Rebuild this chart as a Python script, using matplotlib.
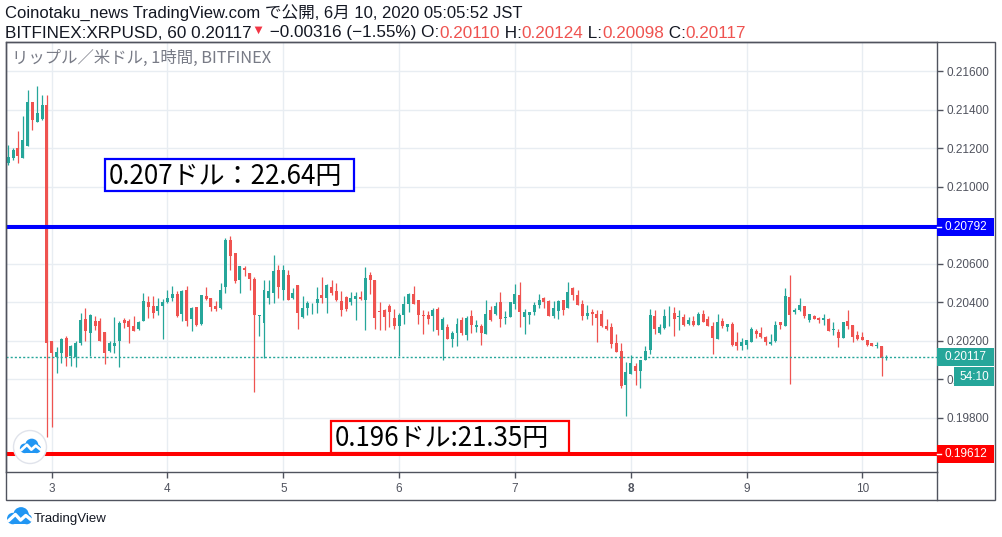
import matplotlib
matplotlib.use('Agg')
import matplotlib.pyplot as plt
import matplotlib.dates as mdates
import numpy as np
import pandas as pd
from matplotlib.patches import Rectangle, Circle
from matplotlib.lines import Line2D
from matplotlib.ticker import FormatStrFormatter
from matplotlib.transforms import blended_transform_factory

# hourly candles, BITFINEX XRPUSD, from 2020-06-02 15:00 JST
start = '2020-06-02 15:00'
opens = [
    0.21123, 0.21149, 0.21201, 0.21152, 0.21213, 0.21438, 0.21339, 0.21353, 0.21426, 0.20196,
    0.20118, 0.20135, 0.20216, 0.20121, 0.20118, 0.20187, 0.20312, 0.20239, 0.20303, 0.20300,
    0.20244, 0.20149, 0.20173, 0.20196, 0.20308, 0.20300, 0.20274, 0.20260, 0.20305, 0.20400,
    0.20381, 0.20357, 0.20378, 0.20400, 0.20421, 0.20444, 0.20339, 0.20461, 0.20312, 0.20374,
    0.20286, 0.20430, 0.20421, 0.20381, 0.20369, 0.20481, 0.20721, 0.20655, 0.20513, 0.20577,
    0.20551, 0.20520, 0.20326, 0.20294, 0.20424, 0.20450, 0.20568, 0.20464, 0.20542, 0.20421,
    0.20490, 0.20322, 0.20369, 0.20384, 0.20395, 0.20438, 0.20421, 0.20478, 0.20456, 0.20408,
    0.20427, 0.20399, 0.20418, 0.20427, 0.20413, 0.20543, 0.20514, 0.20356, 0.20361, 0.20382,
    0.20320, 0.20275, 0.20334, 0.20389, 0.20444, 0.20413, 0.20335, 0.20335, 0.20327, 0.20367,
    0.20254, 0.20271, 0.20207, 0.20238, 0.20309, 0.20230, 0.20330, 0.20270, 0.20278, 0.20233,
    0.20358, 0.20341, 0.20399, 0.20318, 0.20322, 0.20392, 0.20439, 0.20322, 0.20332, 0.20347,
    0.20387, 0.20424, 0.20408, 0.20327, 0.20353, 0.20413, 0.20368, 0.20476, 0.20439, 0.20389,
    0.20330, 0.20347, 0.20341, 0.20341, 0.20278, 0.20270, 0.20190, 0.20148, 0.19968, 0.20029,
    0.20070, 0.20041, 0.20098, 0.20150, 0.20330, 0.20242, 0.20266, 0.20342, 0.20346, 0.20322,
    0.20325, 0.20289, 0.20304, 0.20283, 0.20341, 0.20315, 0.20278, 0.20211, 0.20304, 0.20273,
    0.20289, 0.20195, 0.20174, 0.20176, 0.20195, 0.20252, 0.20242, 0.20221, 0.20185, 0.20200,
    0.20299, 0.20278, 0.20429, 0.20347, 0.20361, 0.20382, 0.20309, 0.20330, 0.20320, 0.20309,
    0.20315, 0.20254, 0.20247, 0.20212, 0.20304, 0.20283, 0.20231, 0.20221, 0.20205, 0.20190,
    0.20171, 0.20174, 0.20110,
]
highs = [
    0.21218, 0.21201, 0.21291, 0.21369, 0.21501, 0.21438, 0.21521, 0.21478, 0.21478, 0.20196,
    0.20170, 0.20213, 0.20225, 0.20178, 0.20196, 0.20343, 0.20369, 0.20338, 0.20326, 0.20317,
    0.20244, 0.20196, 0.20322, 0.20300, 0.20317, 0.20312, 0.20326, 0.20300, 0.20447, 0.20433,
    0.20430, 0.20421, 0.20416, 0.20461, 0.20485, 0.20456, 0.20461, 0.20485, 0.20374, 0.20374,
    0.20437, 0.20481, 0.20424, 0.20404, 0.20499, 0.20733, 0.20742, 0.20655, 0.20589, 0.20589,
    0.20551, 0.20530, 0.20334, 0.20516, 0.20513, 0.20646, 0.20594, 0.20594, 0.20568, 0.20473,
    0.20490, 0.20433, 0.20404, 0.20395, 0.20481, 0.20530, 0.20495, 0.20516, 0.20499, 0.20460,
    0.20434, 0.20455, 0.20455, 0.20460, 0.20583, 0.20559, 0.20514, 0.20399, 0.20365, 0.20392,
    0.20367, 0.20344, 0.20431, 0.20448, 0.20486, 0.20413, 0.20361, 0.20353, 0.20372, 0.20375,
    0.20323, 0.20289, 0.20252, 0.20318, 0.20323, 0.20327, 0.20361, 0.20309, 0.20287, 0.20413,
    0.20379, 0.20399, 0.20455, 0.20353, 0.20399, 0.20496, 0.20505, 0.20367, 0.20351, 0.20401,
    0.20444, 0.20429, 0.20413, 0.20405, 0.20413, 0.20413, 0.20503, 0.20479, 0.20465, 0.20410,
    0.20384, 0.20367, 0.20361, 0.20360, 0.20315, 0.20292, 0.20237, 0.20188, 0.20088, 0.20126,
    0.20084, 0.20102, 0.20171, 0.20367, 0.20361, 0.20287, 0.20367, 0.20382, 0.20375, 0.20361,
    0.20341, 0.20323, 0.20330, 0.20347, 0.20361, 0.20330, 0.20299, 0.20341, 0.20320, 0.20289,
    0.20299, 0.20247, 0.20216, 0.20205, 0.20273, 0.20263, 0.20273, 0.20226, 0.20237, 0.20304,
    0.20299, 0.20476, 0.20543, 0.20372, 0.20424, 0.20382, 0.20341, 0.20335, 0.20325, 0.20341,
    0.20320, 0.20297, 0.20263, 0.20297, 0.20361, 0.20283, 0.20252, 0.20247, 0.20205, 0.20190,
    0.20195, 0.20174, 0.20124,
]
lows = [
    0.21114, 0.21140, 0.21126, 0.21149, 0.21210, 0.21296, 0.21334, 0.21348, 0.19702, 0.19754,
    0.20034, 0.20083, 0.20069, 0.20069, 0.20066, 0.20178, 0.20201, 0.20121, 0.20256, 0.20201,
    0.20080, 0.20144, 0.20138, 0.20066, 0.20265, 0.20190, 0.20248, 0.20256, 0.20305, 0.20317,
    0.20317, 0.20334, 0.20208, 0.20395, 0.20404, 0.20322, 0.20300, 0.20277, 0.20253, 0.20277,
    0.20282, 0.20412, 0.20357, 0.20352, 0.20364, 0.20450, 0.20565, 0.20499, 0.20450, 0.20537,
    0.20461, 0.19936, 0.20222, 0.20109, 0.20391, 0.20395, 0.20421, 0.20412, 0.20412, 0.20416,
    0.20260, 0.20317, 0.20334, 0.20339, 0.20346, 0.20395, 0.20346, 0.20438, 0.20404, 0.20327,
    0.20353, 0.20387, 0.20309, 0.20413, 0.20257, 0.20444, 0.20263, 0.20257, 0.20254, 0.20270,
    0.20263, 0.20122, 0.20289, 0.20347, 0.20392, 0.20289, 0.20233, 0.20289, 0.20249, 0.20228,
    0.20102, 0.20207, 0.20166, 0.20171, 0.20231, 0.20205, 0.20240, 0.20245, 0.20179, 0.20233,
    0.20304, 0.20335, 0.20270, 0.20289, 0.20322, 0.20365, 0.20270, 0.20233, 0.20285, 0.20332,
    0.20368, 0.20368, 0.20327, 0.20320, 0.20315, 0.20332, 0.20368, 0.20410, 0.20384, 0.20308,
    0.20313, 0.20283, 0.20192, 0.20273, 0.20256, 0.20164, 0.20140, 0.19953, 0.19807, 0.20029,
    0.19972, 0.19953, 0.20098, 0.20133, 0.20237, 0.20237, 0.20263, 0.20278, 0.20226, 0.20257,
    0.20276, 0.20282, 0.20276, 0.20283, 0.20299, 0.20275, 0.20133, 0.20211, 0.20264, 0.20249,
    0.20174, 0.20150, 0.20150, 0.20155, 0.20192, 0.20216, 0.20216, 0.20179, 0.20179, 0.20195,
    0.20263, 0.20278, 0.19977, 0.20341, 0.20356, 0.20320, 0.20299, 0.20315, 0.20294, 0.20283,
    0.20249, 0.20231, 0.20166, 0.20212, 0.20263, 0.20195, 0.20205, 0.20202, 0.20174, 0.20171,
    0.20164, 0.20015, 0.20098,
]
closes = [
    0.21154, 0.21192, 0.21158, 0.21244, 0.21443, 0.21345, 0.21383, 0.21426, 0.20190, 0.20138,
    0.20144, 0.20208, 0.20114, 0.20173, 0.20187, 0.20308, 0.20253, 0.20334, 0.20274, 0.20201,
    0.20135, 0.20187, 0.20190, 0.20291, 0.20291, 0.20270, 0.20253, 0.20298, 0.20404, 0.20374,
    0.20346, 0.20381, 0.20400, 0.20421, 0.20444, 0.20326, 0.20456, 0.20300, 0.20369, 0.20282,
    0.20437, 0.20416, 0.20374, 0.20364, 0.20464, 0.20724, 0.20638, 0.20508, 0.20586, 0.20568,
    0.20520, 0.20334, 0.20333, 0.20461, 0.20456, 0.20560, 0.20481, 0.20565, 0.20412, 0.20450,
    0.20343, 0.20369, 0.20395, 0.20388, 0.20416, 0.20421, 0.20490, 0.20450, 0.20412, 0.20361,
    0.20367, 0.20422, 0.20434, 0.20417, 0.20526, 0.20517, 0.20320, 0.20347, 0.20323, 0.20347,
    0.20278, 0.20334, 0.20391, 0.20444, 0.20392, 0.20332, 0.20327, 0.20315, 0.20361, 0.20257,
    0.20315, 0.20207, 0.20242, 0.20287, 0.20238, 0.20320, 0.20280, 0.20283, 0.20238, 0.20341,
    0.20309, 0.20382, 0.20313, 0.20322, 0.20399, 0.20444, 0.20349, 0.20349, 0.20351, 0.20387,
    0.20410, 0.20399, 0.20327, 0.20372, 0.20405, 0.20358, 0.20451, 0.20436, 0.20387, 0.20327,
    0.20344, 0.20339, 0.20318, 0.20278, 0.20261, 0.20185, 0.20140, 0.19966, 0.20037, 0.20084,
    0.20041, 0.20102, 0.20148, 0.20334, 0.20263, 0.20270, 0.20330, 0.20346, 0.20315, 0.20325,
    0.20282, 0.20306, 0.20282, 0.20341, 0.20299, 0.20275, 0.20212, 0.20299, 0.20275, 0.20289,
    0.20179, 0.20174, 0.20195, 0.20202, 0.20263, 0.20237, 0.20219, 0.20195, 0.20195, 0.20283,
    0.20283, 0.20434, 0.20335, 0.20361, 0.20387, 0.20330, 0.20341, 0.20315, 0.20309, 0.20320,
    0.20249, 0.20263, 0.20212, 0.20297, 0.20278, 0.20221, 0.20211, 0.20202, 0.20179, 0.20171,
    0.20179, 0.20110, 0.20117,
]

price_ticks = [0.198, 0.200, 0.202, 0.204, 0.206, 0.208, 0.210, 0.212, 0.214, 0.216]
resistance = 0.20792
support = 0.19612
last_price = 0.20117

UP = '#26a69a'
DOWN = '#ef5350'
AXIS = '#50535e'
TEXT = '#131722'

plt.rcParams['font.family'] = ['Liberation Sans', 'Noto Sans CJK JP', 'DejaVu Sans']

W, H = 1002, 537
fig = plt.figure(figsize=(W / 100, H / 100), dpi=100)


def fx(px):
    return px / W


def fy(py):
    return 1 - py / H


ax = fig.add_axes([fx(6), fy(471.5), fx(937) - fx(6), fy(42) - fy(471.5)])

times = pd.date_range(start, periods=len(opens), freq='h')
xs = mdates.date2num(times.values)
o = np.array(opens)
c = np.array(closes)
cols = [UP if cc >= oo else DOWN for oo, cc in zip(o, c)]

ax.vlines(xs, lows, highs, colors=cols, lw=0.9, zorder=3)
body_h = np.maximum(np.abs(c - o), 0.00004)
ax.bar(xs, body_h, bottom=np.minimum(o, c), width=0.62 / 24, color=cols,
       linewidth=0, zorder=3)

ax.axhline(resistance, color='#0000ff', lw=2.9, zorder=4)
ax.axhline(support, color='#ff0000', lw=2.9, zorder=4)
ax.axhline(last_price, color=UP, lw=1, ls=(0, (1.5, 1.5)), zorder=4)

days = pd.date_range('2020-06-03', '2020-06-10', freq='D')
d3 = mdates.date2num(days.values)[0]
ax.set_xticks(mdates.date2num(days.values))
ax.set_xticklabels([str(d.day) for d in days])
for lab in ax.get_xticklabels():
    if lab.get_text() == '8':
        lab.set_fontweight('bold')
ax.set_xlim(d3 - 0.3946, d3 + 7.645)

ax.set_ylim(0.195205, 0.217522)
ax.set_yticks(price_ticks)
ax.yaxis.set_major_formatter(FormatStrFormatter('%.5f'))
ax.yaxis.tick_right()
ax.tick_params(axis='y', direction='out', length=4, width=1, colors=AXIS,
               labelsize=8.5, pad=3)
ax.tick_params(axis='x', direction='out', length=4, width=1, colors=AXIS,
               labelsize=8.5, pad=4)
ax.grid(True, color='#e8edf2', lw=1)
ax.set_axisbelow(True)
for s in ax.spines.values():
    s.set_color(AXIS)
    s.set_linewidth(1)

# outer frame of the price / time scales
fig.add_artist(Rectangle((fx(6), fy(500)), fx(995) - fx(6), fy(42) - fy(500),
                         transform=fig.transFigure, fill=False, ec=AXIS, lw=1))
fig.add_artist(Line2D([fx(937), fx(937)], [fy(471.5), fy(500)],
                      transform=fig.transFigure, color=AXIS, lw=1))

# price tags on the right scale
trans = blended_transform_factory(ax.transAxes, ax.transData)
ax_w = 931.0
ax_h = 429.5
px_per_unit = ax_h / (0.217522 - 0.195205)


def tag(y, text, color, x0=937, x1=994, hpx=18, tx=945):
    h = hpx / px_per_unit
    ax.add_patch(Rectangle(((x0 - 6) / ax_w, y - h / 2), (x1 - x0) / ax_w, h,
                           transform=trans, fc=color, ec='none', clip_on=False,
                           zorder=6))
    ax.text((tx - 6) / ax_w, y, text, transform=trans, color='white',
            fontsize=8.5, va='center', ha='left', clip_on=False, zorder=7)


def tick_mark(y):
    ax.add_line(Line2D([1.0, 4 / ax_w + 1.0], [y, y], transform=trans,
                       color='white', lw=1, clip_on=False, zorder=7))


tag(resistance, '%.5f' % resistance, '#0000ff')
tick_mark(resistance)
tag(last_price, '%.5f' % last_price, UP)
tag(0.20014, '54:10', UP, x0=954, hpx=19, tx=959)
tag(support, '%.5f' % support, '#ff0000')
tick_mark(support)


# text notes drawn on the chart (box given in pixels of the picture)
def note(text, x0, y0, x1, y1, edge):
    ax.add_patch(Rectangle(((x0 - 6) / ax_w, (471.5 - y1) / ax_h),
                           (x1 - x0) / ax_w, (y1 - y0) / ax_h,
                           transform=ax.transAxes, fc='white', ec=edge, lw=1.6,
                           zorder=8))
    ax.text((x0 + 4 - 6) / ax_w, (471.5 - (y0 + y1) / 2 - 1.5) / ax_h, text,
            transform=ax.transAxes, fontsize=18.7, family=['Noto Sans CJK JP'],
            color='black', va='center', ha='left', zorder=9)


note('0.207ドル：22.64円', 105, 159, 354, 191, '#0000ff')
note('0.196ドル:21.35円', 331, 421, 569, 453, '#ff0000')

fig.text(fx(12), fy(58), 'リップル／米ドル, 1時間, BITFINEX', color='#787b86',
         fontsize=11.8, va='center', family=['Noto Sans CJK JP', 'DejaVu Sans'])

# header
fig.text(fx(5), fy(13), 'Coinotaku_news TradingView.com で公開, 6月 10, 2020 05:05:52 JST',
         color=TEXT, fontsize=12, va='center')
pieces = [
    ('BITFINEX:XRPUSD, 60 0.20117', TEXT, 12.3),
    ('▼', '#f23645', 9.5),
    (' −0.00316 (−1.55%) O:', TEXT, 12.3),
    ('0.20110', DOWN, 12.3),
    (' H:', TEXT, 12.3),
    ('0.20124', DOWN, 12.3),
    (' L:', TEXT, 12.3),
    ('0.20098', DOWN, 12.3),
    (' C:', TEXT, 12.3),
    ('0.20117', DOWN, 12.3),
]
renderer = fig.canvas.get_renderer()
xpos = fx(5)
for txt, col, size in pieces:
    yy = fy(31) if size < 12 else fy(33)
    t = fig.text(xpos, yy, txt, color=col, fontsize=size, va='center',
                 family=['Liberation Sans', 'DejaVu Sans'])
    xpos = t.get_window_extent(renderer=renderer).x1 / W


def draw_cloud(a, cx, cy, s):
    blue = '#2196f3'
    for dx, dy, r in [(0.08, 0.08, 0.30), (-0.24, -0.06, 0.22), (0.30, -0.08, 0.20)]:
        a.add_patch(Circle((cx + dx * s, cy + dy * s), r * s, fc=blue, ec='none'))
    a.add_patch(Rectangle((cx - 0.24 * s, cy - 0.28 * s), 0.54 * s, 0.22 * s,
                          fc=blue, ec='none'))
    zx = [cx - 0.40 * s, cx - 0.14 * s, cx + 0.06 * s, cx + 0.26 * s, cx + 0.48 * s]
    zy = [cy - 0.14 * s, cy + 0.10 * s, cy - 0.12 * s, cy + 0.06 * s, cy - 0.12 * s]
    a.plot(zx, zy, color='white', lw=s * 0.09, solid_capstyle='round',
           solid_joinstyle='round')


# round logo inside the chart
lax = fig.add_axes([fx(12), fy(465), fx(48) - fx(12), fy(429) - fy(465)])
lax.set_xlim(0, 36)
lax.set_ylim(0, 36)
lax.axis('off')
lax.add_patch(Circle((18, 18), 16.5, fc='white', ec='#e0e3eb', lw=1))
draw_cloud(lax, 18, 18, 22)

# TradingView logo under the chart
bax = fig.add_axes([fx(4), fy(532), fx(34) - fx(4), fy(504) - fy(532)])
bax.set_xlim(0, 30)
bax.set_ylim(0, 28)
bax.axis('off')
draw_cloud(bax, 15, 15, 26)
fig.text(fx(34), fy(519), 'TradingView', color=TEXT, fontsize=9.5, va='center')

fig.savefig('out.png', dpi=100)
